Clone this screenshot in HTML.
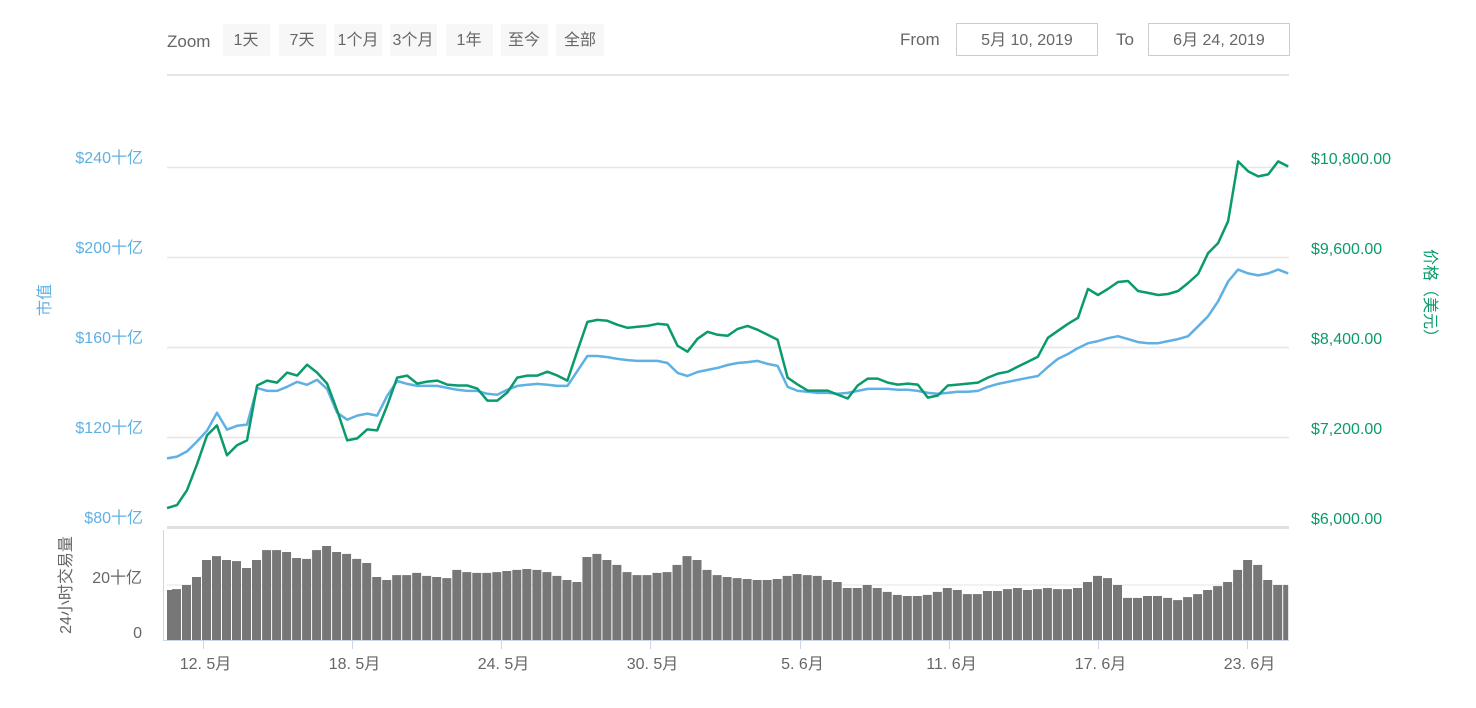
<!DOCTYPE html>
<html><head><meta charset="utf-8">
<style>
body{margin:0;background:#fff;width:1476px;height:708px;overflow:hidden;font-family:"Liberation Sans","Noto Sans CJK SC",sans-serif;}
svg{position:absolute;left:0;top:0}
</style></head>
<body>
<svg id="chart" width="1476" height="708" xmlns="http://www.w3.org/2000/svg" font-family="Liberation Sans, Noto Sans CJK SC, sans-serif">
  <text x="167" y="47" font-size="17" fill="#666">Zoom</text>
  <g><rect x="223" y="24" width="47" height="32" fill="#f7f7f7"/><text x="246" y="45" font-size="16" fill="#666" text-anchor="middle">1天</text></g>
  <g><rect x="279" y="24" width="47" height="32" fill="#f7f7f7"/><text x="302" y="45" font-size="16" fill="#666" text-anchor="middle">7天</text></g>
  <g><rect x="334" y="24" width="48" height="32" fill="#f7f7f7"/><text x="358" y="45" font-size="16" fill="#666" text-anchor="middle">1个月</text></g>
  <g><rect x="390" y="24" width="47" height="32" fill="#f7f7f7"/><text x="413" y="45" font-size="16" fill="#666" text-anchor="middle">3个月</text></g>
  <g><rect x="446" y="24" width="47" height="32" fill="#f7f7f7"/><text x="469" y="45" font-size="16" fill="#666" text-anchor="middle">1年</text></g>
  <g><rect x="501" y="24" width="47" height="32" fill="#f7f7f7"/><text x="524" y="45" font-size="16" fill="#666" text-anchor="middle">至今</text></g>
  <g><rect x="556" y="24" width="48" height="32" fill="#f7f7f7"/><text x="580" y="45" font-size="16" fill="#666" text-anchor="middle">全部</text></g>
  <text x="900" y="45" font-size="17" fill="#666">From</text>
  <g><rect x="956.5" y="23.5" width="141" height="32" fill="#fff" stroke="#ccc"/><text x="1027" y="45" font-size="16" fill="#666" text-anchor="middle">5月 10, 2019</text></g>
  <text x="1116" y="45" font-size="17" fill="#666">To</text>
  <g><rect x="1148.5" y="23.5" width="141" height="32" fill="#fff" stroke="#ccc"/><text x="1219" y="45" font-size="16" fill="#666" text-anchor="middle">6月 24, 2019</text></g>
  <rect x="167" y="74" width="1122" height="2" fill="#e6e6e6"/>
  <g id="grid"></g>
  <g id="marks"></g>
  <g id="axes"></g>
  <text transform="translate(50,300) rotate(-90)" font-size="16" fill="#5fb0e3" text-anchor="middle">市值</text>
  <text transform="translate(1425,297) rotate(90)" font-size="16" fill="#0a9a6c" text-anchor="middle">价格（美元）</text>
  <text transform="translate(71,585) rotate(-90)" font-size="16" fill="#666" text-anchor="middle">24小时交易量</text>
</svg>
<script>
const startDay = 10.55;   // May 10, ~13:00
const stepDay = 0.4027;
const priceValues = [6252,6292,6491,6836,7221,7354,6956,7089,7155,7886,7952,7925,8058,8018,8164,8058,7912,7554,7155,7182,7301,7288,7620,7992,8018,7912,7939,7952,7899,7886,7886,7846,7686,7686,7793,7992,8018,8018,8071,8018,7952,8350,8735,8762,8749,8696,8656,8669,8682,8709,8696,8417,8337,8510,8603,8563,8550,8642,8682,8629,8563,8496,7992,7899,7819,7819,7819,7766,7713,7886,7978,7978,7925,7899,7912,7899,7726,7753,7886,7899,7912,7925,7992,8045,8071,8138,8204,8271,8523,8616,8709,8789,9174,9094,9174,9267,9280,9147,9121,9094,9107,9147,9253,9373,9652,9785,10077,10874,10741,10674,10701,10874,10807];
const capValues = [110.5,111.3,113.6,118.0,122.8,130.8,123.3,125.0,125.5,141.8,140.5,140.5,142.3,144.5,143.2,145.4,141.4,130.8,127.7,129.5,130.4,129.5,138.3,144.9,143.6,142.7,142.7,142.7,141.8,141.0,140.5,140.5,139.2,138.8,141.0,142.7,143.2,143.6,143.2,142.7,142.7,149.4,156.0,156.0,155.5,154.7,154.2,153.8,153.8,153.8,152.9,148.5,147.1,148.9,149.8,150.7,152.0,152.9,153.3,153.8,152.5,151.6,142.3,140.5,140.1,139.6,139.6,139.2,139.6,140.5,141.4,141.4,141.4,141.0,141.0,140.5,139.6,139.2,139.6,140.1,140.1,140.5,142.3,143.6,144.5,145.4,146.3,147.1,151.1,154.7,156.9,159.5,161.7,162.6,163.9,164.8,163.5,162.2,161.7,161.7,162.6,163.5,164.8,169.2,173.7,180.3,189.1,194.4,192.7,191.8,192.7,194.4,192.7];
const volumeValues = [18.2,18.5,20.0,22.9,29.1,30.5,29.1,28.7,26.2,29.1,32.7,32.7,32.0,29.8,29.5,32.7,34.2,32.0,31.3,29.5,28.0,22.9,21.8,23.6,23.6,24.4,23.3,22.9,22.5,25.5,24.7,24.4,24.4,24.7,25.1,25.5,25.8,25.5,24.7,23.3,21.8,21.1,30.2,31.3,29.1,27.3,24.7,23.6,23.6,24.4,24.7,27.3,30.5,29.1,25.5,23.6,22.9,22.5,22.2,21.8,21.8,22.2,23.3,24.0,23.6,23.3,21.8,21.1,18.9,18.9,20.0,18.9,17.5,16.4,16.0,16.0,16.4,17.5,18.9,18.2,16.7,16.7,17.8,17.8,18.5,18.9,18.2,18.5,18.9,18.5,18.5,18.9,21.1,23.3,22.5,20.0,15.3,15.3,16.0,16.0,15.3,14.5,15.6,16.7,18.2,19.6,21.1,25.5,29.1,27.3,21.8,20.0,20.0];
const capTicks = [80,120,160,200,240];
const capTickLabels = ["$80十亿","$120十亿","$160十亿","$200十亿","$240十亿"];
const priceTicks = [6000,7200,8400,9600,10800];
const priceTickLabels = ["$6,000.00","$7,200.00","$8,400.00","$9,600.00","$10,800.00"];
const volTicks = [0,20];
const volTickLabels = ["0","20十亿"];
const dateTicks = [12,18,24,30,36,42,48,54];
const dateTickLabels = ["12. 5月","18. 5月","24. 5月","30. 5月","5. 6月","11. 6月","17. 6月","23. 6月"];

const NS="http://www.w3.org/2000/svg";
const X0=167, X1=1288;
const n=Math.min(priceValues.length,capValues.length,volumeValues.length);
function xScale(d){return 203+(d-12)*24.86;}
function yCap(v){return 527-(v-80)/40*90;}
function yPrice(v){return 527-(v-6000)/1200*90;}
function yVol(v){return 640-v/20*55;}
function tOf(i){return startDay+i*stepDay;}
function mk(tag,attrs,parent){const e=document.createElementNS(NS,tag);for(const k in attrs)e.setAttribute(k,attrs[k]);parent.appendChild(e);return e;}
const grid=document.getElementById('grid'),marks=document.getElementById('marks'),axes=document.getElementById('axes');

capTicks.forEach((v,i)=>{
  const y=Math.round(yCap(v))+0.5;
  const l=mk('line',{x1:X0,x2:X1+1,y1:y,y2:y,stroke:i===0?'#e0e0e0':'#e6e6e6','stroke-width':i===0?3:1.5},grid);
  
  
  const t=mk('text',{x:143,y:yCap(v)-4,'font-size':16,fill:'#5fb0e3','text-anchor':'end'},axes);
  t.textContent=capTickLabels[i];
  
  
});
priceTicks.forEach((v,i)=>{
  const t=mk('text',{x:1311,y:yPrice(v)-3,'font-size':16,fill:'#0a9a6c'},axes);
  t.textContent=priceTickLabels[i];
  
  
});
volTicks.forEach((v,i)=>{
  if(v>0){const l=mk('line',{x1:X0,x2:X1,y1:yVol(v),y2:yVol(v),stroke:'#e6e6e6'},grid);
  
  }
  const t=mk('text',{x:142,y:yVol(v)-2,'font-size':16,fill:'#666','text-anchor':'end'},axes);
  t.textContent=volTickLabels[i];
  
  
});
const bw=(xScale(tOf(1))-xScale(tOf(0)));
for(let i=0;i<n;i++){
  const x=xScale(tOf(i));
  const y=yVol(volumeValues[i]);
  const r=mk('rect',{x:(i===0?X0:x-bw/2).toFixed(1),y:y.toFixed(1),width:(i===0||i===n-1?bw/2:bw-1).toFixed(1),height:(640-y).toFixed(1),fill:'#777'},marks);
  
  
}
const al=mk('line',{x1:163.5,x2:163.5,y1:530,y2:641,stroke:'#ccd6eb'},axes);


const bl=mk('line',{x1:163,x2:X1+1,y1:640.5,y2:640.5,stroke:'#ccd6eb'},axes);


dateTicks.forEach((d,i)=>{
  const x=Math.round(xScale(d))+0.5;
  const tk=mk('line',{x1:x,x2:x,y1:641,y2:649,stroke:'#ccd6eb'},axes);
  
  
  const t=mk('text',{x:x+2,y:669,'font-size':16,fill:'#666','text-anchor':'middle'},axes);
  t.textContent=dateTickLabels[i];
  
  
});
function path(vals,yf){let d='';for(let i=0;i<n;i++){d+=(i?'L':'M')+xScale(tOf(i)).toFixed(1)+','+yf(vals[i]).toFixed(1);}return d;}
const capLine=mk('path',{d:path(capValues,yCap),fill:'none',stroke:'#5fb0e3','stroke-width':2.5,'stroke-linejoin':'round'},marks);


const priceLine=mk('path',{d:path(priceValues,yPrice),fill:'none',stroke:'#0a9a6c','stroke-width':2.5,'stroke-linejoin':'round'},marks);


</script>
</body></html>
